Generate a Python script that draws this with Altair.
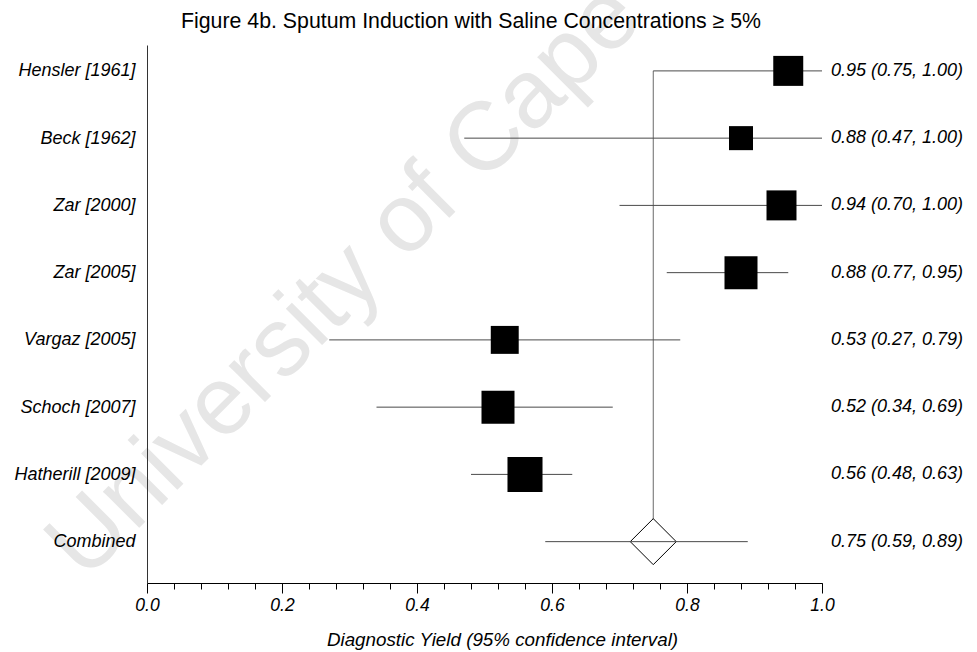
import altair as alt
import pandas as pd

# Study-level diagnostic yield with 95% confidence limits
studies = ["Hensler [1961]", "Beck [1962]", "Zar [2000]", "Zar [2005]",
           "Vargaz [2005]", "Schoch [2007]", "Hatherill [2009]"]
estimate = [0.95, 0.88, 0.94, 0.88, 0.53, 0.52, 0.56]
lower = [0.75, 0.47, 0.70, 0.77, 0.27, 0.34, 0.48]
upper = [1.00, 1.00, 1.00, 0.95, 0.79, 0.69, 0.63]
weight = [13.7, 8.8, 13.7, 16.6, 11.9, 16.6, 18.7]  # relative study weight (%)

# Pooled (random-effects) estimate
pooled_name = "Combined"
pooled_est = 0.75
pooled_lo = 0.59
pooled_hi = 0.89

title_text = "Figure 4b. Sputum Induction with Saline Concentrations \u2265 5%"
x_title = "Diagnostic Yield (95% confidence interval)"
watermark = "University of Cape Town"

major_ticks = [0.0, 0.2, 0.4, 0.6, 0.8, 1.0]
minor_ticks = [round(i * 0.04, 2) for i in range(26)]

FONT = "Liberation Sans, Arial, Helvetica, sans-serif"
LINE = "#4a4a4a"

rows = studies + [pooled_name]

def ci_label(e, lo, hi):
    return f"{e:.2f} ({lo:.2f}, {hi:.2f})"

df = pd.DataFrame({"study": studies, "est": estimate, "lo": lower,
                   "hi": upper, "w": weight})
df["label"] = [ci_label(e, l, h) for e, l, h in zip(estimate, lower, upper)]

pooled = pd.DataFrame({"study": [pooled_name], "est": [pooled_est],
                       "lo": [pooled_lo], "hi": [pooled_hi],
                       "label": [ci_label(pooled_est, pooled_lo, pooled_hi)]})

# reference line runs from the first study row down to the pooled row
ref_line = pd.DataFrame({"study": [studies[0]], "end": [pooled_name],
                         "est": [pooled_est]})

labels = pd.concat([df[["study", "label"]], pooled[["study", "label"]]])

x_scale = alt.Scale(domain=[0, 1], nice=False, zero=False)
y_scale = alt.Scale(type="point", domain=rows, paddingOuter=0.415,
                    align=0.385)
y_axis = alt.Axis(title=None, ticks=False, domainColor="#333",
                  domainWidth=1, labelFont=FONT, labelFontSize=18,
                  labelFontStyle="italic", labelColor="#000",
                  labelPadding=12, grid=False, zindex=1)
y_enc = alt.Y("study:N", scale=y_scale, sort=rows, axis=y_axis)

# faint diagonal watermark behind everything
wm = alt.Chart(pd.DataFrame({"t": [watermark]})).mark_text(
    font=FONT, fontSize=97, angle=315, align="left", baseline="alphabetic",
    color="#e6e6e6"
).encode(text="t:N", x=alt.value(-62), y=alt.value(537))

# vertical line at the pooled estimate; carries the minor x ticks
vline = alt.Chart(ref_line).mark_rule(color="#6a6a6a", strokeWidth=1).encode(
    x=alt.X("est:Q", scale=x_scale,
            axis=alt.Axis(orient="bottom", values=minor_ticks, labels=False,
                          tickSize=6, tickColor="#000", tickWidth=1,
                          domain=False, grid=False, title=None, zindex=1)),
    y=y_enc,
    y2="end:N",
)

ci = alt.Chart(df).mark_rule(color=LINE, strokeWidth=1).encode(
    x=alt.X("lo:Q", scale=x_scale,
            axis=alt.Axis(orient="bottom", values=major_ticks, format=".1f",
                          tickSize=10, tickColor="#000", tickWidth=1,
                          domainColor="#000", domainWidth=1, grid=False,
                          labelFont=FONT, labelFontSize=17.5,
                          labelFontStyle="italic", labelColor="#000",
                          labelPadding=3, labelFlush=False,
                          title=x_title, titleFont=FONT, titleFontSize=18.8,
                          titleFontStyle="italic", titleFontWeight="normal",
                          titleColor="#000", titleX=355, titleY=62,
                          titleAlign="center", titleBaseline="alphabetic",
                          zindex=1)),
    x2="hi:Q",
    y=y_enc,
)

squares = alt.Chart(df).mark_point(shape="square", filled=True, color="#000",
                                   opacity=1, strokeWidth=0).encode(
    x=alt.X("est:Q", scale=x_scale, axis=None),
    y=y_enc,
    size=alt.Size("w:Q", scale=alt.Scale(domain=[0, 100], range=[0, 6563]),
                  legend=None),
)

diamond = alt.Chart(pooled).mark_point(shape="diamond", filled=True,
                                       fill="#fff", stroke="#000",
                                       strokeWidth=1, size=2116,
                                       opacity=1).encode(
    x=alt.X("est:Q", scale=x_scale, axis=None),
    y=y_enc,
)

pooled_ci = alt.Chart(pooled).mark_rule(color=LINE, strokeWidth=1).encode(
    x=alt.X("lo:Q", scale=x_scale, axis=None),
    x2="hi:Q",
    y=y_enc,
)

right_text = alt.Chart(labels).mark_text(
    font=FONT, fontSize=18, fontStyle="italic", align="left",
    baseline="middle", color="#000"
).encode(text="label:N", x=alt.value(684), y=y_enc)

title = alt.Chart(pd.DataFrame({"t": [title_text]})).mark_text(
    font=FONT, fontSize=21.3, align="center", baseline="alphabetic",
    color="#000"
).encode(text="t:N", x=alt.value(324), y=alt.value(-17))

chart = alt.layer(
    wm, vline, ci, squares, diamond, pooled_ci, right_text, title
).resolve_axis(x="independent").properties(
    width=675, height=538,
    autosize=alt.AutoSizeParams(type="none"),
    padding={"left": 147, "top": 45, "right": 155, "bottom": 69},
).configure(background="#ffffff", view=alt.ViewConfig(stroke=None))

chart.save("out.html", embed_options={"renderer": "svg", "actions": False})
